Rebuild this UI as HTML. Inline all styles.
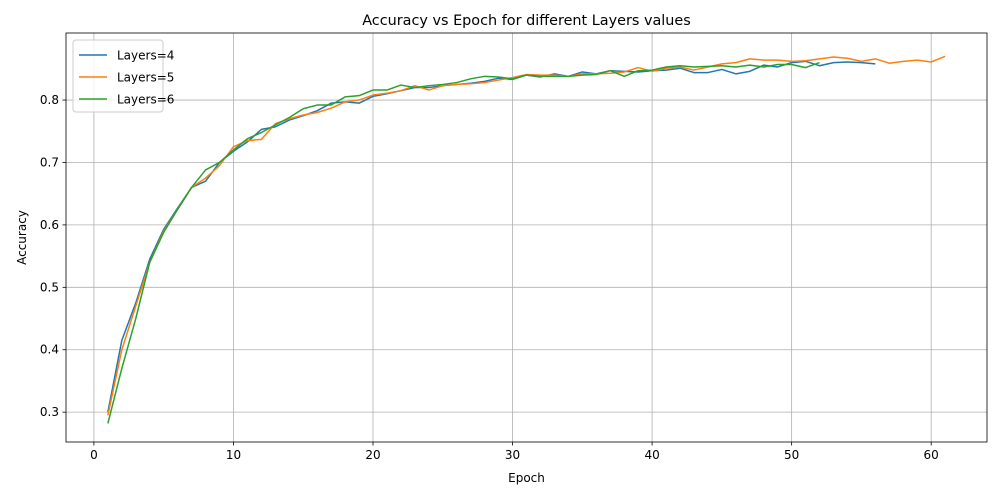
<!DOCTYPE html>
<html><head><meta charset="utf-8"><style>
body{margin:0;background:#fff;font-family:"DejaVu Sans","Liberation Sans",sans-serif}
svg text{font-family:"DejaVu Sans","Liberation Sans",sans-serif}
</style></head><body>
<svg id="chart" width="1002" height="500" xmlns="http://www.w3.org/2000/svg"></svg>
<script>
const layers4 = [0.30,0.415,0.475,0.545,0.593,0.627,0.66,0.67,0.70,0.718,0.733,0.753,0.757,0.768,0.775,0.783,0.795,0.797,0.795,0.806,0.81,0.815,0.82,0.82,0.823,0.825,0.827,0.83,0.835,0.833,0.84,0.837,0.842,0.838,0.845,0.842,0.847,0.846,0.845,0.847,0.848,0.851,0.844,0.844,0.849,0.842,0.846,0.856,0.853,0.86,0.862,0.855,0.86,0.861,0.86,0.858];
const layers5 = [0.295,0.40,0.47,0.54,0.59,0.625,0.66,0.675,0.695,0.725,0.735,0.737,0.762,0.77,0.776,0.78,0.787,0.797,0.8,0.808,0.811,0.815,0.823,0.816,0.823,0.825,0.826,0.828,0.832,0.836,0.841,0.84,0.84,0.838,0.842,0.842,0.843,0.845,0.852,0.846,0.851,0.853,0.848,0.853,0.858,0.86,0.866,0.864,0.864,0.862,0.863,0.866,0.869,0.867,0.862,0.866,0.859,0.862,0.864,0.861,0.87];
const layers6 = [0.282,0.37,0.45,0.54,0.588,0.625,0.66,0.688,0.70,0.72,0.738,0.748,0.76,0.772,0.786,0.792,0.792,0.805,0.807,0.816,0.816,0.824,0.82,0.823,0.825,0.828,0.834,0.838,0.837,0.834,0.84,0.838,0.838,0.838,0.84,0.841,0.847,0.838,0.847,0.848,0.853,0.855,0.853,0.854,0.855,0.853,0.856,0.853,0.857,0.857,0.852,0.86];
const seriesNames = ["Layers=4","Layers=5","Layers=6"];
const xTicks = [0,10,20,30,40,50,60];
const yTicks = [0.3,0.4,0.5,0.6,0.7,0.8];

const svg = document.getElementById('chart');
const NS = "http://www.w3.org/2000/svg";
const L=66,R=987,T=33,B=442;
const xMin=-2.0,xMax=64.0,yMin=0.2522,yMax=0.9074;
const X=v=>L+(v-xMin)/(xMax-xMin)*(R-L);
const Y=v=>B-(v-yMin)/(yMax-yMin)*(B-T);
function mk(tag,attrs,parent){const e=document.createElementNS(NS,tag);for(const k in attrs)e.setAttribute(k,attrs[k]);(parent||svg).appendChild(e);return e;}

xTicks.forEach(t=>{
  const g=mk('line',{x1:X(t),x2:X(t),y1:T,y2:B,stroke:'#b0b0b0','stroke-width':0.8});
  
  
  mk('line',{x1:X(t),x2:X(t),y1:B,y2:B+3.5,stroke:'#000','stroke-width':0.8});
  const tx=mk('text',{x:X(t),y:B+17,'text-anchor':'middle','font-size':12,fill:'#000'});
  tx.textContent=t;
  
  
});
yTicks.forEach(t=>{
  const g=mk('line',{x1:L,x2:R,y1:Y(t),y2:Y(t),stroke:'#b0b0b0','stroke-width':0.8});
  
  
  mk('line',{x1:L-3.5,x2:L,y1:Y(t),y2:Y(t),stroke:'#000','stroke-width':0.8});
  const tx=mk('text',{x:L-7,y:Y(t)+4,'text-anchor':'end','font-size':12,fill:'#000'});
  tx.textContent=t.toFixed(1);
  
  
});

const colors=['#1f77b4','#ff7f0e','#2ca02c'];
[layers4,layers5,layers6].forEach((s,i)=>{
  const p=mk('polyline',{points:s.map((v,j)=>X(j+1)+','+Y(v)).join(' '),fill:'none',stroke:colors[i],'stroke-width':1.5,'stroke-linejoin':'round'});
  
  
});

const frame=mk('rect',{x:L,y:T,width:R-L,height:B-T,fill:'none',stroke:'#000','stroke-width':0.8});



const title=mk('text',{x:(L+R)/2,y:T-8,'text-anchor':'middle','font-size':14.4,fill:'#000'});
title.textContent='Accuracy vs Epoch for different Layers values';


const xl=mk('text',{x:(L+R)/2,y:482,'text-anchor':'middle','font-size':12,fill:'#000'});
xl.textContent='Epoch';


const yl=mk('text',{x:26,y:(T+B)/2,'text-anchor':'middle','font-size':12,fill:'#000',transform:'rotate(-90 26 '+((T+B)/2)+')'});
yl.textContent='Accuracy';



const lg=mk('g',{});


mk('rect',{x:73,y:40,width:90,height:72,rx:3,fill:'#fff','fill-opacity':0.8,stroke:'#ccc','stroke-width':1},lg);
seriesNames.forEach((n,i)=>{
  const ent=mk('g',{},lg);
  
  
  const yy=55+i*22;
  mk('line',{x1:79,x2:107,y1:yy,y2:yy,stroke:colors[i],'stroke-width':1.5},ent);
  const t=mk('text',{x:117,y:yy+4.5,'font-size':12,fill:'#000'},ent);
  t.textContent=n;
});
</script>
</body></html>
